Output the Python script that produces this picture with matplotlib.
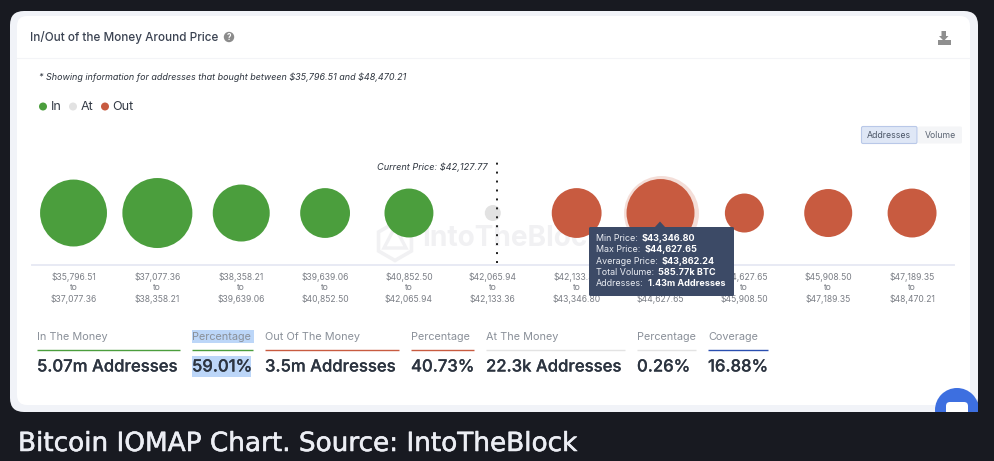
import matplotlib
matplotlib.use("Agg")
import matplotlib.pyplot as plt
import matplotlib.patheffects as pe
import numpy as np
from matplotlib.patches import FancyBboxPatch, Rectangle, Circle, Polygon, RegularPolygon

plt.rcParams["text.parse_math"] = False

W, H = 994, 461

# ---- data ----
price_bounds = ["$35,796.51", "$37,077.36", "$38,358.21", "$39,639.06", "$40,852.50", "$42,065.94",
                "$42,133.36", "$43,346.80", "$44,627.65", "$45,908.50", "$47,189.35", "$48,470.21"]
addresses_m = [1.38, 1.53, 0.95, 0.69, 0.66, 0.0223, 0.69, 1.43, 0.375, 0.63, 0.66]
status = ["In", "In", "In", "In", "In", "At", "Out", "Out", "Out", "Out", "Out"]
current_price_label = "Current Price: $42,127.77"
current_price_pos = 5.05
highlight_index = 7

tip_labels = ["Min Price:", "Max Price:", "Average Price:", "Total Volume:", "Addresses:"]
tip_values = ["$43,346.80", "$44,627.65", "$43,862.24", "585.77k BTC", "1.43m Addresses"]

stat_labels = ["In The Money", "Percentage", "Out Of The Money", "Percentage", "At The Money", "Percentage", "Coverage"]
stat_values = ["5.07m Addresses", "59.01%", "3.5m Addresses", "40.73%", "22.3k Addresses", "0.26%", "16.88%"]

# ---- style ----
FONT = "Inter"
COLORS = {"In": "#4b9e3d", "At": "#e2e2e2", "Out": "#c85b40"}
DARK = "#181a21"
px = 0.72  # pixels to points at dpi 100

fig = plt.figure(figsize=(W / 100, H / 100), dpi=100, facecolor=DARK)


def pixel_axes(z):
    a = fig.add_axes([0, 0, 1, 1], zorder=z)
    a.set_xlim(0, W)
    a.set_ylim(H, 0)
    a.axis("off")
    a.patch.set_alpha(0)
    return a


bg = pixel_axes(0)
top = pixel_axes(2)


def rbox(a, x0, y0, x1, y1, r, **kw):
    p = FancyBboxPatch((x0 + r, y0 + r), x1 - x0 - 2 * r, y1 - y0 - 2 * r,
                       boxstyle=f"round,pad={r},rounding_size={r}", **kw)
    a.add_patch(p)
    return p


def heavier(t, width, color):
    t.set_path_effects([pe.withStroke(linewidth=width, foreground=color)])
    return t


# card
card = rbox(bg, 10, 11, 978, 412, 14, fc="#f1f3f8", ec="none")
rbox(bg, 17, 16, 970, 405, 10, fc="white", ec="none")
bg.plot([17, 970], [58.5, 58.5], color="#f3f4f7", lw=0.8)

# header
bg.text(30, 37, "In/Out of the Money Around Price", fontsize=11.7 * px, family=FONT, weight="medium",
        color="#3b4352", va="center")
bg.add_patch(Circle((229, 37), 5.2, fc="#8b8b8b", ec="none"))
bg.text(229, 37.2, "?", fontsize=8 * px, family=FONT, weight="bold", color="white", ha="center", va="center")
# download icon
bg.add_patch(Polygon([[941.5, 31], [946, 31], [946, 36], [948.5, 36], [943.8, 41], [939, 36], [941.5, 36]],
                     fc="#8f8f8f", ec="none"))
bg.add_patch(Rectangle((938, 40.5), 13, 4.5, fc="#8f8f8f", ec="none"))

bg.text(39, 77, "* Showing information for addresses that bought between $35,796.51 and $48,470.21",
        fontsize=9.0 * px, family=FONT, style="italic", color="#2f3640", va="center")

# legend
for cx, tx, key in [(43, 50.5, "In"), (73, 81, "At"), (105, 112.5, "Out")]:
    bg.add_patch(Circle((cx, 106.5), 4, fc=COLORS[key], ec="none"))
    bg.text(tx, 106.5, key, fontsize=12.5 * px, family=FONT, color="#333a45", va="center")

# buttons
rbox(bg, 861.5, 126.5, 917, 143.5, 1.5, fc="#dfe7f6", ec="#b9c8e8", lw=0.8)
rbox(bg, 918, 126.5, 962, 143.5, 1.5, fc="#f4f5f7", ec="none")
bg.text(889, 135, "Addresses", fontsize=8.7 * px, family=FONT, color="#4a5566", ha="center", va="center")
bg.text(940.5, 135, "Volume", fontsize=8.7 * px, family=FONT, color="#5b6472", ha="center", va="center")

# watermark
bg.add_patch(RegularPolygon((395, 241.5), 6, radius=19, fc="none", ec="#f1f1f3", lw=2.6))
bg.add_patch(Polygon([[395, 227], [406, 248], [384, 248]], fc="none", ec="#f1f1f3", lw=2.4))
bg.text(422, 238, "IntoTheBlock", fontsize=28 * px, family=FONT, weight="bold", color="#f1f1f3", va="center")

# bubble chart on category axis
ax = fig.add_axes([31.6 / W, (H - 265) / H, (954 - 31.6) / W, 105 / H], zorder=1)
ax.patch.set_alpha(0)
x = np.arange(len(addresses_m))
ax.set_xlim(-0.5, len(addresses_m) - 0.5)
ax.set_ylim(0, 1)


def radius_px(v):
    s = np.sqrt(np.asarray(v, dtype=float))
    return 8 + 27 * (s - s.min()) / (s.max() - s.min())


radii = radius_px(addresses_m)
ax.scatter(x, [0.495] * len(x), s=(2 * radii * px) ** 2, c=[COLORS[k] for k in status],
           linewidths=0, clip_on=False, zorder=3)
ax.scatter([x[highlight_index]], [0.495], s=(2 * (radii[highlight_index] + 3.5) * px) ** 2, c=COLORS["Out"], alpha=0.2,
           linewidths=0, clip_on=False, zorder=2)
ax.plot([current_price_pos] * 2, [0.02, 0.98], color="#1c1c1c", lw=1.4, linestyle=(0, (1, 3.6)), zorder=4)
ax.text(current_price_pos - 0.115, 0.93, current_price_label, fontsize=9.2 * px, family=FONT, style="italic",
        color="#2f3640", ha="right", va="center")
for s in ["top", "left", "right"]:
    ax.spines[s].set_visible(False)
ax.spines["bottom"].set_color("#e8eaf4")
ax.spines["bottom"].set_linewidth(1.4)
ax.set_yticks([])
ax.set_xticks(x)
ax.set_xticklabels([f"{a}\nto\n{b}" for a, b in zip(price_bounds[:-1], price_bounds[1:])],
                   fontsize=8.6 * px, family=FONT, color="#7b7f86", linespacing=1.25)
ax.tick_params(axis="x", length=0, pad=5.2)

# tooltip
rbox(top, 589, 227, 734, 296, 1.5, fc="#3c4a66", ec="none")
top.add_patch(Polygon([[654.5, 227.5], [660, 221.5], [665.5, 227.5]], fc="#3c4a66", ec="none"))
tip_ys = [238.5, 249.8, 261, 272.2, 283.5]
tip_xs = [642, 644.5, 662, 658, 647.5]
for lab, val, ty, tx in zip(tip_labels, tip_values, tip_ys, tip_xs):
    top.text(596, ty, lab, fontsize=8.9 * px, family=FONT, color="#e9ecf2", va="center")
    top.text(tx, ty, val, fontsize=9.1 * px, family=FONT, weight="bold", color="white", va="center")

# summary table
cols = [(37, 180), (192, 253), (265, 399), (411, 474), (486, 625), (637, 696), (708, 768)]
line_cols = ["#4b9e3d", "#4b9e3d", "#c85b40", "#c85b40", "#e3e3e3", "#e3e3e3", "#2a4fb0"]
bg.add_patch(Rectangle((192, 329.5), 62, 13, fc="#bcd6f8", ec="none"))
bg.add_patch(Rectangle((192, 356), 59, 21, fc="#bcd6f8", ec="none"))
for (x0, x1), lab, val, c in zip(cols, stat_labels, stat_values, line_cols):
    bg.text(x0, 336.5, lab, fontsize=10.9 * px, family=FONT, color="#8a9099", va="center")
    bg.plot([x0, x1], [349.5, 349.5], color=c, lw=1.0, solid_capstyle="butt")
    heavier(bg.text(x0, 367, val, fontsize=16.7 * px, family=FONT, weight="medium", color="#2c3440", va="center"),
            0.15, "#2c3440")

# chat button, cut off by the card
clip = Rectangle((10, 11), 968, 401, transform=top.transData)
c1 = Circle((957, 410), 22, fc="#3d6fe0", ec="none")
top.add_patch(c1)
c1.set_clip_path(clip)
c2 = rbox(top, 946, 402, 968, 425, 4, fc="white", ec="none")
c2.set_clip_path(clip)

# caption
heavier(bg.text(18, 444, "Bitcoin IOMAP Chart. Source: IntoTheBlock", fontsize=26.3 * px, family="DejaVu Sans",
                color="#eceef4", va="center"), 0.4, "#eceef4")

fig.savefig("out.png", dpi=100, facecolor=DARK)
